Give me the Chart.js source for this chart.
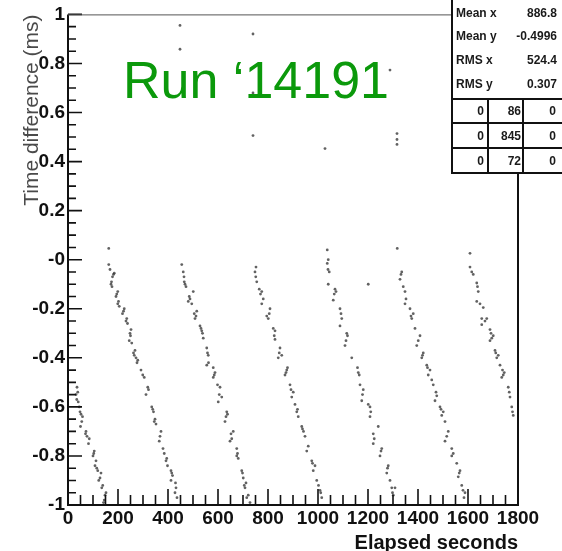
<!DOCTYPE html>
<html>
<head>
<meta charset="utf-8">
<script src="https://cdn.jsdelivr.net/npm/chart.js@4/dist/chart.umd.min.js"></script>
<style>
  html, body { margin: 0; padding: 0; background: #fff; }
  #plot { display: block; }
</style>
</head>
<body>
<canvas id="plot" width="562" height="551"></canvas>
<script>
// 时间差 vs 运行秒数，每一段锯齿单独一组
const sweep1 = [[32,-0.55],[36,-0.52],[39,-0.54],[35,-0.57],[41,-0.58],[45,-0.60],[48,-0.62],[52,-0.63],[55,-0.66],[50,-0.68],[58,-0.64],[72,-0.70],[76,-0.72],[70,-0.71],[85,-0.73],[82,-0.75],[105,-0.78],[100,-0.80],[103,-0.79],[112,-0.82],[108,-0.84],[119,-0.86],[115,-0.85],[132,-0.87],[123,-0.90],[128,-0.89],[139,-0.92],[135,-0.93],[152,-0.95],[145,-0.98],[148,-0.96],[142,-0.99]];
const sweep2 = [[163,0.046],[163,-0.02],[168,-0.04],[185,-0.055],[182,-0.06],[178,-0.07],[172,-0.10],[176,-0.11],[174,-0.09],[199,-0.13],[195,-0.14],[192,-0.15],[199,-0.18],[205,-0.19],[202,-0.17],[225,-0.20],[218,-0.22],[222,-0.21],[232,-0.25],[238,-0.26],[235,-0.24],[252,-0.285],[248,-0.30],[245,-0.33],[250,-0.31],[255,-0.34],[265,-0.39],[268,-0.37],[262,-0.38],[279,-0.41],[272,-0.40],[276,-0.42],[292,-0.45],[299,-0.47],[305,-0.48],[319,-0.52],[312,-0.55],[322,-0.53],[339,-0.61],[335,-0.60],[342,-0.62],[345,-0.66],[352,-0.67],[348,-0.65],[372,-0.70],[365,-0.74],[368,-0.72],[385,-0.79],[380,-0.77],[392,-0.82],[398,-0.84],[395,-0.81],[412,-0.86],[412,-0.90],[418,-0.88],[415,-0.87],[432,-0.93],[428,-0.95],[436,-0.97],[430,-0.91]];
const sweep3 = [[455,-0.02],[464,-0.07],[461,-0.05],[468,-0.10],[472,-0.11],[465,-0.09],[501,-0.13],[481,-0.17],[488,-0.16],[485,-0.15],[495,-0.18],[515,-0.21],[508,-0.24],[512,-0.23],[505,-0.22],[528,-0.27],[535,-0.29],[532,-0.28],[541,-0.32],[538,-0.30],[561,-0.39],[555,-0.36],[558,-0.38],[555,-0.43],[562,-0.42],[581,-0.44],[581,-0.48],[588,-0.46],[585,-0.47],[608,-0.52],[598,-0.51],[601,-0.58],[615,-0.56],[605,-0.55],[635,-0.62],[628,-0.66],[632,-0.64],[638,-0.63],[661,-0.70],[648,-0.74],[655,-0.73],[652,-0.71],[675,-0.77],[675,-0.80],[681,-0.81],[678,-0.79],[695,-0.86],[701,-0.89],[698,-0.87],[708,-0.93],[712,-0.91],[705,-0.92],[721,-0.96],[728,-0.99],[715,-0.97]];
const sweep4 = [[748,-0.05],[752,-0.03],[755,-0.09],[751,-0.07],[775,-0.13],[765,-0.12],[770,-0.14],[775,-0.18],[781,-0.16],[808,-0.20],[801,-0.24],[795,-0.23],[805,-0.22],[828,-0.29],[821,-0.28],[828,-0.325],[825,-0.31],[848,-0.36],[841,-0.40],[855,-0.39],[845,-0.38],[875,-0.45],[868,-0.47],[878,-0.44],[872,-0.46],[888,-0.51],[895,-0.56],[901,-0.54],[892,-0.53],[908,-0.59],[921,-0.64],[915,-0.62],[918,-0.61],[935,-0.68],[948,-0.72],[942,-0.70],[938,-0.69],[955,-0.78],[961,-0.76],[975,-0.82],[981,-0.86],[988,-0.84],[978,-0.83],[995,-0.90],[1008,-0.94],[1002,-0.92],[1015,-0.97],[1011,-0.95]];
const sweep5 = [[1037,0.04],[1037,-0.015],[1041,0.0],[1045,-0.05],[1040,-0.04],[1041,-0.10],[1068,-0.12],[1061,-0.165],[1072,-0.13],[1065,-0.14],[1088,-0.20],[1095,-0.24],[1092,-0.22],[1088,-0.27],[1115,-0.30],[1108,-0.35],[1112,-0.33],[1118,-0.31],[1135,-0.40],[1161,-0.46],[1158,-0.44],[1165,-0.47],[1168,-0.51],[1181,-0.53],[1175,-0.575],[1178,-0.55],[1208,-0.60],[1201,-0.59],[1208,-0.64],[1211,-0.62],[1241,-0.68],[1221,-0.71],[1221,-0.75],[1225,-0.73],[1255,-0.77],[1248,-0.80],[1252,-0.78],[1281,-0.84],[1275,-0.87],[1278,-0.85],[1288,-0.90],[1295,-0.93],[1308,-0.93],[1301,-0.96],[1298,-0.95]];
const sweep6 = [[1317,0.046],[1335,-0.05],[1328,-0.08],[1332,-0.06],[1348,-0.13],[1341,-0.11],[1348,-0.18],[1352,-0.16],[1368,-0.20],[1375,-0.24],[1381,-0.22],[1372,-0.23],[1388,-0.28],[1408,-0.31],[1395,-0.35],[1401,-0.33],[1415,-0.40],[1421,-0.38],[1418,-0.39],[1435,-0.43],[1441,-0.47],[1448,-0.45],[1438,-0.44],[1461,-0.51],[1455,-0.49],[1475,-0.555],[1468,-0.575],[1472,-0.54],[1488,-0.60],[1495,-0.635],[1501,-0.62],[1492,-0.61],[1508,-0.66],[1521,-0.70],[1508,-0.74],[1515,-0.72],[1535,-0.77],[1535,-0.80],[1541,-0.79],[1555,-0.83],[1568,-0.86],[1561,-0.885],[1565,-0.87],[1575,-0.92],[1588,-0.95],[1584,-0.97],[1580,-0.94]];
const sweep7 = [[1608,0.026],[1608,-0.03],[1621,-0.06],[1615,-0.05],[1635,-0.095],[1641,-0.13],[1638,-0.11],[1635,-0.17],[1661,-0.195],[1648,-0.18],[1655,-0.24],[1675,-0.24],[1655,-0.265],[1668,-0.25],[1688,-0.285],[1695,-0.32],[1688,-0.33],[1701,-0.31],[1692,-0.30],[1708,-0.37],[1715,-0.40],[1721,-0.39],[1711,-0.38],[1728,-0.43],[1741,-0.47],[1735,-0.48],[1745,-0.46],[1738,-0.45],[1761,-0.52],[1765,-0.54],[1768,-0.56],[1775,-0.60],[1781,-0.635],[1778,-0.62]];
// 零散的离群点
const strays = [[448,0.955],[448,0.858],[740,0.92],[740,0.68],[740,0.506],[1028,0.453],[1288,0.773],[1316,0.514],[1316,0.49],[1316,0.47],[1201,-0.10]];

// 坐标轴刻度
const xMajorTicks = [0, 200, 400, 600, 800, 1000, 1200, 1400, 1600, 1800];
const xMinorStep = 50;
const yMajorTicks = [1, 0.8, 0.6, 0.4, 0.2, 0, -0.2, -0.4, -0.6, -0.8, -1];
const yMajorLabels = ['1', '0.8', '0.6', '0.4', '0.2', '-0', '-0.2', '-0.4', '-0.6', '-0.8', '-1'];
const yMinorStep = 0.05;

// 统计框
const statNames = ['Mean x', 'Mean y', 'RMS x', 'RMS y'];
const statValues = ['886.8', '-0.4996', '524.4', '0.307'];
const cellCounts = [[0, 86, 0], [0, 845, 0], [0, 72, 0]];
const runLabel = 'Run \u201814191';

const FONT = '"Liberation Sans", Arial, sans-serif';

function toPoints(arr) {
    return arr.map(p => ({ x: p[0], y: p[1] }));
}

function buildTicks(min, max, step) {
    const n = Math.round((max - min) / step);
    const out = [];
    for (let i = 0; i <= n; i++) {
        out.push({ value: Math.round((min + i * step) * 1000) / 1000 });
    }
    return out;
}

function isMajor(list, v) {
    return list.some(m => Math.abs(m - v) < 1e-6);
}

// 向内的刻度线和外框
const rootFrame = {
    id: 'rootFrame',
    afterDatasetsDraw(chart) {
        const { ctx, chartArea: a, scales: { x, y } } = chart;
        ctx.save();
        ctx.strokeStyle = '#111';
        ctx.lineWidth = 1.6;
        ctx.beginPath();
        x.ticks.forEach(t => {
            const px = x.getPixelForValue(t.value);
            const len = isMajor(xMajorTicks, t.value) ? 16 : 10;
            ctx.moveTo(px, a.bottom);
            ctx.lineTo(px, a.bottom - len);
        });
        y.ticks.forEach(t => {
            const py = y.getPixelForValue(t.value);
            const len = isMajor(yMajorTicks, t.value) ? 14 : 8;
            ctx.moveTo(a.left, py);
            ctx.lineTo(a.left + len, py);
        });
        ctx.stroke();

        ctx.lineWidth = 2;
        ctx.beginPath();
        ctx.moveTo(a.left, a.top);
        ctx.lineTo(a.left, a.bottom);
        ctx.lineTo(a.right, a.bottom);
        ctx.lineTo(a.right, a.top);
        ctx.stroke();
        ctx.lineWidth = 1;
        ctx.strokeStyle = '#555';
        ctx.beginPath();
        ctx.moveTo(a.left, a.top + 0.5);
        ctx.lineTo(a.right, a.top + 0.5);
        ctx.stroke();
        ctx.restore();
    },
    afterDraw(chart) {
        const ctx = chart.ctx;
        ctx.save();

        // 运行号
        ctx.fillStyle = '#0b990b';
        ctx.font = '52px ' + FONT;
        ctx.textBaseline = 'alphabetic';
        ctx.textAlign = 'left';
        ctx.fillText(runLabel, 123, 98);

        // 统计框
        const bx = 452, by = -2, bw = 115, bh = 175;
        ctx.fillStyle = '#fff';
        ctx.fillRect(bx, by, bw, bh);
        ctx.strokeStyle = '#111';
        ctx.lineWidth = 2;
        ctx.strokeRect(bx, by, bw, bh);

        ctx.fillStyle = '#1a1a1a';
        ctx.font = 'bold 12px ' + FONT;
        ctx.textBaseline = 'middle';
        const rowY = [14, 37, 61, 85];
        statNames.forEach((name, i) => {
            ctx.textAlign = 'left';
            ctx.fillText(name, 456, rowY[i]);
            ctx.textAlign = 'right';
            ctx.fillText(statValues[i], 557, rowY[i]);
        });

        const lineY = [99, 123, 148, 173];
        ctx.beginPath();
        lineY.forEach(ly => { ctx.moveTo(bx, ly); ctx.lineTo(bx + bw, ly); });
        ctx.moveTo(488, 99); ctx.lineTo(488, 173);
        ctx.moveTo(523, 99); ctx.lineTo(523, 173);
        ctx.stroke();

        const colRight = [484, 521, 556];
        ctx.textAlign = 'right';
        cellCounts.forEach((row, r) => {
            const cy = (lineY[r] + lineY[r + 1]) / 2 + 1;
            row.forEach((v, c) => ctx.fillText(String(v), colRight[c], cy));
        });
        ctx.restore();
    }
};

const dotStyle = {
    pointRadius: 1.4,
    pointHoverRadius: 1.4,
    pointBackgroundColor: 'rgba(45,45,45,0.75)',
    pointBorderWidth: 0,
    showLine: false
};

const ctx = document.getElementById('plot').getContext('2d');
new Chart(ctx, {
    type: 'scatter',
    data: {
        datasets: [sweep1, sweep2, sweep3, sweep4, sweep5, sweep6, sweep7, strays].map(s => ({
            data: toPoints(s),
            ...dotStyle
        }))
    },
    options: {
        responsive: false,
        animation: false,
        events: [],
        layout: { padding: { top: 11, right: 44, left: 0, bottom: 0 } },
        plugins: { legend: { display: false }, tooltip: { enabled: false } },
        scales: {
            x: {
                type: 'linear',
                min: 0,
                max: 1800,
                afterFit: s => { s.height = 46; },
                afterBuildTicks: s => { s.ticks = buildTicks(0, 1800, xMinorStep); },
                grid: { display: false, drawTicks: false },
                border: { display: false },
                ticks: {
                    autoSkip: false,
                    maxRotation: 0,
                    padding: 2,
                    color: '#111',
                    font: { family: FONT, size: 19, weight: 'bold' },
                    callback: v => isMajor(xMajorTicks, v) ? String(v) : ''
                },
                title: {
                    display: true,
                    text: 'Elapsed seconds',
                    align: 'end',
                    color: '#111',
                    font: { family: FONT, size: 20, weight: 'bold', lineHeight: 1 },
                    padding: { top: 0, bottom: -2 }
                }
            },
            y: {
                type: 'linear',
                min: -1,
                max: 1,
                afterFit: s => { s.width = 68; },
                afterBuildTicks: s => { s.ticks = buildTicks(-1, 1, yMinorStep); },
                grid: { display: false, drawTicks: false },
                border: { display: false },
                ticks: {
                    autoSkip: false,
                    padding: 3,
                    color: '#111',
                    font: { family: FONT, size: 19, weight: 'bold' },
                    callback: v => {
                        const i = yMajorTicks.findIndex(m => Math.abs(m - v) < 1e-6);
                        return i >= 0 ? yMajorLabels[i] : '';
                    }
                },
                title: {
                    display: true,
                    text: 'Time difference (ms)',
                    align: 'end',
                    color: '#4a4a4a',
                    font: { family: FONT, size: 21, lineHeight: 1.2 },
                    padding: { top: 20, bottom: 0 }
                }
            }
        }
    },
    plugins: [rootFrame]
});
</script>
</body>
</html>
